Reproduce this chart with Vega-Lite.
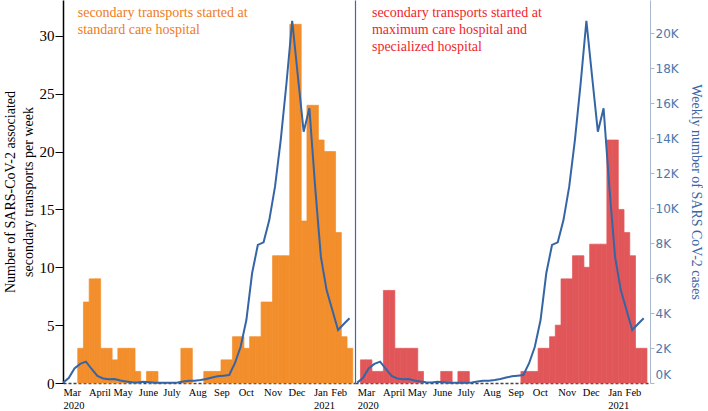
{
  "$schema": "https://vega.github.io/schema/vega-lite/v6.json",
  "padding": {"left": 3, "top": 0, "right": 0, "bottom": 0},
  "background": "white",
  "config": {"view": {"stroke": null}, "font": "Liberation Serif"},
  "bounds": "flush",
  "spacing": 0,
  "datasets": {
    "weekly": [
      {"week": "2020-03-05T00:00", "end": "2020-03-12T00:00", "standard": 0, "maximum": 2},
      {"week": "2020-03-12T00:00", "end": "2020-03-19T00:00", "standard": 0, "maximum": 2},
      {"week": "2020-03-19T00:00", "end": "2020-03-26T00:00", "standard": 3, "maximum": 1},
      {"week": "2020-03-26T00:00", "end": "2020-04-02T00:00", "standard": 7, "maximum": 1},
      {"week": "2020-04-02T00:00", "end": "2020-04-09T00:00", "standard": 9, "maximum": 8},
      {"week": "2020-04-09T00:00", "end": "2020-04-16T00:00", "standard": 9, "maximum": 8},
      {"week": "2020-04-16T00:00", "end": "2020-04-23T00:00", "standard": 3, "maximum": 3},
      {"week": "2020-04-23T00:00", "end": "2020-04-30T00:00", "standard": 3, "maximum": 3},
      {"week": "2020-04-30T00:00", "end": "2020-05-07T00:00", "standard": 2, "maximum": 3},
      {"week": "2020-05-07T00:00", "end": "2020-05-14T00:00", "standard": 3, "maximum": 3},
      {"week": "2020-05-14T00:00", "end": "2020-05-21T00:00", "standard": 3, "maximum": 1},
      {"week": "2020-05-21T00:00", "end": "2020-05-28T00:00", "standard": 3, "maximum": 0},
      {"week": "2020-05-28T00:00", "end": "2020-06-04T00:00", "standard": 1, "maximum": 0},
      {"week": "2020-06-04T00:00", "end": "2020-06-11T00:00", "standard": 0, "maximum": 0},
      {"week": "2020-06-11T00:00", "end": "2020-06-18T00:00", "standard": 1, "maximum": 1},
      {"week": "2020-06-18T00:00", "end": "2020-06-25T00:00", "standard": 1, "maximum": 1},
      {"week": "2020-06-25T00:00", "end": "2020-07-02T00:00", "standard": 0, "maximum": 0},
      {"week": "2020-07-02T00:00", "end": "2020-07-09T00:00", "standard": 0, "maximum": 1},
      {"week": "2020-07-09T00:00", "end": "2020-07-16T00:00", "standard": 0, "maximum": 1},
      {"week": "2020-07-16T00:00", "end": "2020-07-23T00:00", "standard": 0, "maximum": 0},
      {"week": "2020-07-23T00:00", "end": "2020-07-30T00:00", "standard": 3, "maximum": 0},
      {"week": "2020-07-30T00:00", "end": "2020-08-06T00:00", "standard": 3, "maximum": 0},
      {"week": "2020-08-06T00:00", "end": "2020-08-13T00:00", "standard": 0, "maximum": 0},
      {"week": "2020-08-13T00:00", "end": "2020-08-20T00:00", "standard": 0, "maximum": 0},
      {"week": "2020-08-20T00:00", "end": "2020-08-27T00:00", "standard": 1, "maximum": 0},
      {"week": "2020-08-27T00:00", "end": "2020-09-03T00:00", "standard": 1, "maximum": 0},
      {"week": "2020-09-03T00:00", "end": "2020-09-10T00:00", "standard": 1, "maximum": 0},
      {"week": "2020-09-10T00:00", "end": "2020-09-17T00:00", "standard": 2, "maximum": 0},
      {"week": "2020-09-17T00:00", "end": "2020-09-24T00:00", "standard": 2, "maximum": 1},
      {"week": "2020-09-24T00:00", "end": "2020-10-01T00:00", "standard": 4, "maximum": 1},
      {"week": "2020-10-01T00:00", "end": "2020-10-08T00:00", "standard": 4, "maximum": 1},
      {"week": "2020-10-08T00:00", "end": "2020-10-15T00:00", "standard": 3, "maximum": 3},
      {"week": "2020-10-15T00:00", "end": "2020-10-22T00:00", "standard": 4, "maximum": 3},
      {"week": "2020-10-22T00:00", "end": "2020-10-29T00:00", "standard": 4, "maximum": 4},
      {"week": "2020-10-29T00:00", "end": "2020-11-05T00:00", "standard": 7, "maximum": 5},
      {"week": "2020-11-05T00:00", "end": "2020-11-12T00:00", "standard": 7, "maximum": 9},
      {"week": "2020-11-12T00:00", "end": "2020-11-19T00:00", "standard": 11, "maximum": 9},
      {"week": "2020-11-19T00:00", "end": "2020-11-26T00:00", "standard": 11, "maximum": 11},
      {"week": "2020-11-26T00:00", "end": "2020-12-03T00:00", "standard": 11, "maximum": 11},
      {"week": "2020-12-03T00:00", "end": "2020-12-10T00:00", "standard": 31, "maximum": 10},
      {"week": "2020-12-10T00:00", "end": "2020-12-17T00:00", "standard": 31, "maximum": 12},
      {"week": "2020-12-17T00:00", "end": "2020-12-24T00:00", "standard": 14, "maximum": 12},
      {"week": "2020-12-24T00:00", "end": "2020-12-31T00:00", "standard": 24, "maximum": 12},
      {"week": "2020-12-31T00:00", "end": "2021-01-07T00:00", "standard": 24, "maximum": 21},
      {"week": "2021-01-07T00:00", "end": "2021-01-14T00:00", "standard": 21, "maximum": 21},
      {"week": "2021-01-14T00:00", "end": "2021-01-21T00:00", "standard": 20, "maximum": 15},
      {"week": "2021-01-21T00:00", "end": "2021-01-28T00:00", "standard": 20, "maximum": 13},
      {"week": "2021-01-28T00:00", "end": "2021-02-04T00:00", "standard": 13, "maximum": 11},
      {"week": "2021-02-04T00:00", "end": "2021-02-11T00:00", "standard": 4, "maximum": 3},
      {"week": "2021-02-11T00:00", "end": "2021-02-18T00:00", "standard": 3, "maximum": 3}
    ],
    "cases": [
      {"date": "2020-03-01T00:00", "cases": 20},
      {"date": "2020-03-08T00:00", "cases": 280},
      {"date": "2020-03-15T00:00", "cases": 830},
      {"date": "2020-03-22T00:00", "cases": 1090},
      {"date": "2020-03-29T00:00", "cases": 1220},
      {"date": "2020-04-05T00:00", "cases": 800},
      {"date": "2020-04-12T00:00", "cases": 400},
      {"date": "2020-04-19T00:00", "cases": 260},
      {"date": "2020-04-26T00:00", "cases": 210},
      {"date": "2020-05-03T00:00", "cases": 230},
      {"date": "2020-05-10T00:00", "cases": 140},
      {"date": "2020-05-17T00:00", "cases": 90},
      {"date": "2020-05-24T00:00", "cases": 40},
      {"date": "2020-05-31T00:00", "cases": 30},
      {"date": "2020-06-07T00:00", "cases": 70},
      {"date": "2020-06-14T00:00", "cases": 50},
      {"date": "2020-06-21T00:00", "cases": 20},
      {"date": "2020-06-28T00:00", "cases": 20},
      {"date": "2020-07-05T00:00", "cases": 20},
      {"date": "2020-07-12T00:00", "cases": 20},
      {"date": "2020-07-19T00:00", "cases": 30},
      {"date": "2020-07-26T00:00", "cases": 90},
      {"date": "2020-08-02T00:00", "cases": 130},
      {"date": "2020-08-09T00:00", "cases": 130},
      {"date": "2020-08-16T00:00", "cases": 170},
      {"date": "2020-08-23T00:00", "cases": 230},
      {"date": "2020-08-30T00:00", "cases": 310},
      {"date": "2020-09-06T00:00", "cases": 380},
      {"date": "2020-09-13T00:00", "cases": 420},
      {"date": "2020-09-20T00:00", "cases": 460},
      {"date": "2020-09-27T00:00", "cases": 1130},
      {"date": "2020-10-04T00:00", "cases": 2070},
      {"date": "2020-10-11T00:00", "cases": 3600},
      {"date": "2020-10-18T00:00", "cases": 6270},
      {"date": "2020-10-25T00:00", "cases": 7890},
      {"date": "2020-11-01T00:00", "cases": 8040},
      {"date": "2020-11-08T00:00", "cases": 9310},
      {"date": "2020-11-15T00:00", "cases": 11220},
      {"date": "2020-11-22T00:00", "cases": 13890},
      {"date": "2020-11-29T00:00", "cases": 17130},
      {"date": "2020-12-06T00:00", "cases": 20700},
      {"date": "2020-12-13T00:00", "cases": 17500},
      {"date": "2020-12-20T00:00", "cases": 14360},
      {"date": "2020-12-27T00:00", "cases": 15700},
      {"date": "2021-01-03T00:00", "cases": 11220},
      {"date": "2021-01-10T00:00", "cases": 7220},
      {"date": "2021-01-17T00:00", "cases": 5310},
      {"date": "2021-01-24T00:00", "cases": 4170},
      {"date": "2021-01-31T00:00", "cases": 3030},
      {"date": "2021-02-07T00:00", "cases": 3370},
      {"date": "2021-02-14T00:00", "cases": 3700}
    ]
  },
  "hconcat": [
    {
      "width": 292,
      "height": 383,
      "layer": [
        {
          "layer": [
            {
              "data": {"name": "weekly"},
              "transform": [{"filter": "datum.standard > 0"}],
              "mark": {"type": "rect", "color": "#f28e2b", "stroke": "#f28e2b", "strokeWidth": 0.7},
              "encoding": {
                "x": {
                  "field": "week", "type": "temporal",
                  "scale": {"domain": [{"year": 2020, "month": 3, "date": 1}, {"year": 2021, "month": 2, "date": 20, "hours": 17}], "nice": false},
                  "axis": {
                    "title": null, "grid": false, "ticks": false,
                    "tickCount": {"interval": "month", "step": 1},
                    "labelExpr": "month(datum.value) === 2 ? ['Mar', '2020'] : (month(datum.value) === 0 ? ['Jan', '2021'] : ['Jan','Feb','Mar','April','May','June','July','Aug','Sep','Oct','Nov','Dec'][month(datum.value)])",
                    "labelAlign": "left", "labelFont": "Liberation Serif", "labelFontSize": 10.5, "labelColor": "#000000",
                    "labelLineHeight": 13, "labelPadding": 4, "labelOverlap": false, "labelBound": false, "labelFlush": false,
                    "labelOffset": {"condition": {"test": "month(datum.value) === 1", "value": -8}, "value": 0},
                    "domainColor": "#444444", "domainDash": [3, 2], "domainWidth": 1.5
                  }
                },
                "x2": {"field": "end"},
                "y": {
                  "field": "standard", "type": "quantitative",
                  "scale": {"domain": [0, 33.1], "nice": false},
                  "axis": {
                    "values": [0, 5, 10, 15, 20, 25, 30], "grid": false,
                    "title": ["Number of SARS-CoV-2 associated", "secondary transports per week"],
                    "titleFont": "Liberation Serif", "titleFontSize": 14, "titleFontWeight": "normal", "titleColor": "#000000",
                    "titleLineHeight": 18, "titlePadding": 4,
                    "labelFont": "Liberation Serif", "labelFontSize": 15, "labelColor": "#000000", "labelPadding": 1,
                    "tickColor": "#000000", "tickSize": 8, "domainColor": "#000000", "domainWidth": 1.5
                  }
                },
                "y2": {"datum": 0}
              }
            },
            {
              "data": {"values": [{}]},
              "mark": {"type": "text", "text": ["secondary transports started at", "standard care hospital"], "align": "left", "baseline": "alphabetic", "font": "Liberation Serif", "fontSize": 14, "lineHeight": 17, "color": "#ef7b22"},
              "encoding": {
                "x": {"datum": {"year": 2020, "month": 3, "date": 19}, "type": "temporal"},
                "y": {"datum": 31.63, "type": "quantitative"}
              }
            }
          ]
        },
        {
          "data": {"name": "cases"},
          "mark": {"type": "line", "color": "#3565a5", "strokeWidth": 2},
          "encoding": {
            "x": {"field": "date", "type": "temporal"},
            "y": {"field": "cases", "type": "quantitative", "scale": {"domain": [0, 21886], "nice": false}, "axis": null}
          }
        }
      ],
      "resolve": {"scale": {"y": "independent"}}
    },
    {
      "width": 295,
      "height": 383,
      "layer": [
        {
          "layer": [
            {
              "data": {"name": "weekly"},
              "transform": [{"filter": "datum.maximum > 0"}],
              "mark": {"type": "rect", "color": "#e15759", "stroke": "#e15759", "strokeWidth": 0.7},
              "encoding": {
                "x": {
                  "field": "week", "type": "temporal",
                  "scale": {"domain": [{"year": 2020, "month": 2, "date": 27, "hours": 7, "minutes": 30}, {"year": 2021, "month": 2, "date": 21, "hours": 17}], "nice": false},
                  "axis": {
                    "title": null, "grid": false, "ticks": false,
                    "tickCount": {"interval": "month", "step": 1},
                    "labelExpr": "month(datum.value) === 2 ? ['Mar', '2020'] : (month(datum.value) === 0 ? ['Jan', '2021'] : ['Jan','Feb','Mar','April','May','June','July','Aug','Sep','Oct','Nov','Dec'][month(datum.value)])",
                    "labelAlign": "left", "labelFont": "Liberation Serif", "labelFontSize": 10.5, "labelColor": "#000000",
                    "labelLineHeight": 13, "labelPadding": 4, "labelOverlap": false, "labelBound": false, "labelFlush": false,
                    "labelOffset": {"condition": {"test": "month(datum.value) === 1", "value": -8}, "value": 0},
                    "domainColor": "#444444", "domainDash": [3, 2], "domainWidth": 1.5
                  }
                },
                "x2": {"field": "end"},
                "y": {
                  "field": "maximum", "type": "quantitative",
                  "scale": {"domain": [0, 33.1], "nice": false},
                  "axis": {"orient": "left", "labels": false, "ticks": false, "grid": false, "title": null, "domainColor": "#3f6aa5", "domainWidth": 1.2}
                },
                "y2": {"datum": 0}
              }
            },
            {
              "data": {"values": [{}]},
              "mark": {"type": "text", "text": ["secondary transports started at", "maximum  care hospital and", "specialized  hospital"], "align": "left", "baseline": "alphabetic", "font": "Liberation Serif", "fontSize": 14, "lineHeight": 17, "color": "#f0262b"},
              "encoding": {
                "x": {"datum": {"year": 2020, "month": 3, "date": 19}, "type": "temporal"},
                "y": {"datum": 31.63, "type": "quantitative"}
              }
            }
          ]
        },
        {
          "data": {"name": "cases"},
          "mark": {"type": "line", "color": "#3565a5", "strokeWidth": 2},
          "encoding": {
            "x": {"field": "date", "type": "temporal"},
            "y": {
              "field": "cases", "type": "quantitative",
              "scale": {"domain": [0, 21886], "nice": false},
              "axis": {
                "orient": "right", "grid": false,
                "values": [0, 2000, 4000, 6000, 8000, 10000, 12000, 14000, 16000, 18000, 20000],
                "labelExpr": "format(datum.value / 1000, 'd') + 'K'",
                "labelFont": "DejaVu Sans", "labelFontSize": 12, "labelColor": "#4e78ab", "labelPadding": 1,
                "labelOffset": {"condition": {"test": "datum.value === 0", "value": -9}, "value": 0},
                "tickColor": "#a8b8cc", "tickSize": 4, "domainColor": "#a8b8cc",
                "title": "Weekly number of SARS CoV-2 cases",
                "titleFont": "Liberation Serif", "titleFontSize": 14, "titleFontWeight": "normal", "titleColor": "#3c66a3", "titlePadding": 10
              }
            }
          }
        }
      ],
      "resolve": {"scale": {"y": "independent"}}
    }
  ]
}
